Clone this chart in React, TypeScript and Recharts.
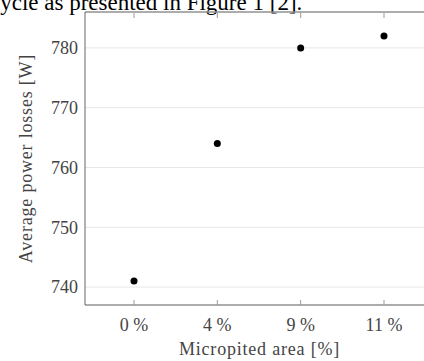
import React from "react";
import {
  LineChart,
  Line,
  XAxis,
  YAxis,
  CartesianGrid,
} from "recharts";

const areas = ["0 %", "4 %", "9 %", "11 %"];
const losses = [741, 764, 780, 782];
const yTicks = [740, 750, 760, 770, 780];

const data = areas.map((area, i) => ({ area, loss: losses[i] }));

const FONT = "'Liberation Serif', 'Times New Roman', serif";
const TEXT = "#444";
const AXIS = "#666";
const TICK = "#999";

// bottom tick: label below, short tick pointing up into the plot
const BottomTick = (props: any) => {
  const { x, y, payload } = props;
  return (
    <g>
      <line x1={x} x2={x} y1={y - 13} y2={y - 18} stroke={TICK} />
      <text
        x={x}
        y={y}
        dy="0.71em"
        textAnchor="middle"
        fill={TEXT}
        fontSize={18}
        fontFamily={FONT}
      >
        {payload.value}
      </text>
    </g>
  );
};

// top tick: no label, short tick pointing down into the plot
const TopTick = (props: any) => {
  const { x, y } = props;
  return <line x1={x} x2={x} y1={y + 1} y2={y + 6} stroke={TICK} />;
};

const App: React.FC = () => {
  return (
    <div
      style={{
        position: "absolute",
        left: 0,
        top: 0,
        width: 424,
        height: 361,
        overflow: "hidden",
        background: "#fff",
      }}
    >
      <svg
        width={424}
        height={20}
        style={{ position: "absolute", left: 0, top: 0 }}
      >
        <text x={-10} y={9.5} fontSize={23} fontFamily={FONT} fill="#000">
          cycle as presented in Figure 1 [2].
        </text>
      </svg>
      <div style={{ position: "absolute", left: 0, top: 0 }}>
        <LineChart
          width={440}
          height={361}
          data={data}
          margin={{ top: 11, right: 6, left: 0, bottom: 0 }}
        >
          <CartesianGrid horizontal vertical={false} stroke="#e6e6e6" />
          <XAxis
            dataKey="area"
            height={56}
            padding={{ left: 49, right: 50 }}
            axisLine={{ stroke: AXIS }}
            tickLine={false}
            tickSize={0}
            tickMargin={13}
            tick={<BottomTick />}
            label={{
              value: "Micropited area [%]",
              position: "insideBottom",
              offset: 6,
              fill: TEXT,
              fontSize: 18,
              fontFamily: FONT,
              letterSpacing: 0.8,
            }}
          />
          <XAxis
            xAxisId="top"
            dataKey="area"
            orientation="top"
            height={1}
            padding={{ left: 49, right: 50 }}
            axisLine={{ stroke: AXIS }}
            tickLine={false}
            tickSize={0}
            tickMargin={0}
            tick={<TopTick />}
          />
          <YAxis
            width={85}
            domain={[737, 786]}
            ticks={yTicks}
            allowDataOverflow
            axisLine={{ stroke: AXIS }}
            tickLine={false}
            tickSize={0}
            tickMargin={7}
            tick={{ fill: TEXT, fontSize: 18, fontFamily: FONT }}
            label={{
              value: "Average power losses [W]",
              angle: -90,
              position: "insideLeft",
              offset: 26,
              fill: TEXT,
              fontSize: 18,
              fontFamily: FONT,
              letterSpacing: 0.8,
              style: { textAnchor: "middle" },
            }}
          />
          <Line
            dataKey="loss"
            stroke="none"
            dot={{ r: 3.5, fill: "#000", stroke: "none" }}
            activeDot={false}
            isAnimationActive={false}
          />
          <Line
            xAxisId="top"
            dataKey="loss"
            stroke="none"
            dot={false}
            activeDot={false}
            isAnimationActive={false}
          />
        </LineChart>
      </div>
    </div>
  );
};

export default App;
